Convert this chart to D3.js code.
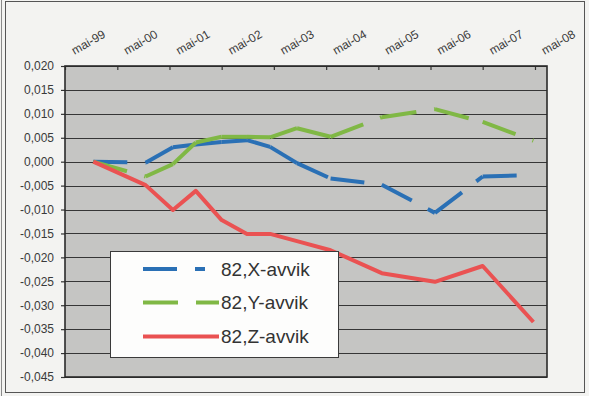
<!DOCTYPE html>
<html>
<head>
<meta charset="utf-8">
<script src="https://cdn.jsdelivr.net/npm/d3@7"></script>
<style>
  html, body { margin: 0; padding: 0; background: #f3f3f1; }
  svg { display: block; font-family: "Liberation Sans", Arial, sans-serif; }
</style>
</head>
<body>
<svg id="chart" width="589" height="396"></svg>
<script>
// Measurement epochs
const dates = ["1999-11-15", "2000-11-15", "2001-05-25", "2001-11-01", "2002-05-01",
  "2002-10-25", "2003-04-05", "2003-10-10", "2004-06-01", "2005-05-25",
  "2006-06-01", "2007-05-01", "2008-04-20"];

// Deviations for point 82
const xAvvik = [0.0000, -0.0002, 0.0030, 0.0036, 0.0041, 0.0045, 0.0031, -0.0003,
  -0.0035, -0.0048, -0.0107, -0.0031, -0.0028];
const yAvvik = [0.0000, -0.0031, -0.0005, 0.0040, 0.0052, 0.0052, 0.0051, 0.0070,
  0.0052, 0.0093, 0.0110, 0.0083, 0.0044];
const zAvvik = [0.0000, -0.0049, -0.0101, -0.0061, -0.0122, -0.0151, -0.0151, -0.0166,
  -0.0185, -0.0233, -0.0251, -0.0218, -0.0335];

const seriesNames = ["82,X-avvik", "82,Y-avvik", "82,Z-avvik"];

// Axis ticks
const xTickLabels = ["mai-99", "mai-00", "mai-01", "mai-02", "mai-03", "mai-04",
  "mai-05", "mai-06", "mai-07", "mai-08"];
const yTicks = [0.020, 0.015, 0.010, 0.005, 0.000, -0.005, -0.010, -0.015, -0.020,
  -0.025, -0.030, -0.035, -0.040, -0.045];

// Norwegian locale for dates and numbers
const nbTime = d3.timeFormatLocale({
  dateTime: "%A %e. %B %Y kl. %X", date: "%d.%m.%Y", time: "%H:%M:%S",
  periods: ["AM", "PM"],
  days: ["søndag", "mandag", "tirsdag", "onsdag", "torsdag", "fredag", "lørdag"],
  shortDays: ["søn", "man", "tir", "ons", "tor", "fre", "lør"],
  months: ["januar", "februar", "mars", "april", "mai", "juni", "juli", "august",
    "september", "oktober", "november", "desember"],
  shortMonths: ["jan", "feb", "mar", "apr", "mai", "jun", "jul", "aug", "sep", "okt", "nov", "des"]
});
const nbNum = d3.formatLocale({ decimal: ",", thousands: " ", grouping: [3],
  currency: ["", " kr"], minus: "-" });

const parseDate = d3.timeParse("%Y-%m-%d");
const parseTick = nbTime.parse("%b-%y");
const fmtTick = nbTime.format("%b-%y");
const fmtY = nbNum.format(".3f");

const W = 589, H = 396;
const plot = { left: 65, right: 547, top: 66, bottom: 377 };

const x = d3.scaleTime()
  .domain([new Date(1999, 4, 1), new Date(2008, 6, 24)])
  .range([plot.left, plot.right]);
const y = d3.scaleLinear()
  .domain([-0.045, 0.020])
  .range([plot.bottom, plot.top]);

const svg = d3.select("#chart");

// Outer frame
svg.append("rect").attr("x", 0).attr("y", 0).attr("width", W).attr("height", H)
  .attr("fill", "#f3f3f1");
svg.append("line").attr("x1", 1.5).attr("x2", 1.5).attr("y1", 0).attr("y2", H)
  .attr("stroke", "#8a8a8a").attr("stroke-width", 1);
svg.append("rect").attr("x", 5.5).attr("y", 1.5).attr("width", 579).attr("height", 391)
  .attr("fill", "none").attr("stroke", "#555").attr("stroke-width", 1);

// Plot area
svg.append("rect")
  .attr("x", plot.left).attr("y", plot.top)
  .attr("width", plot.right - plot.left).attr("height", plot.bottom - plot.top)
  .attr("fill", "#c5c5c3");

// Horizontal gridlines
svg.append("g").selectAll("line").data(yTicks).join("line")
  .attr("x1", plot.left).attr("x2", plot.right)
  .attr("y1", d => Math.round(y(d)) + 0.5).attr("y2", d => Math.round(y(d)) + 0.5)
  .attr("stroke", "#363636").attr("stroke-width", 1.1);

// Y axis
const yAxis = svg.append("g")
  .attr("transform", `translate(${plot.left},0)`)
  .call(d3.axisLeft(y).tickValues(yTicks).tickFormat(fmtY).tickSize(4).tickPadding(7));
yAxis.select(".domain").remove();
yAxis.selectAll(".tick line").attr("stroke", "#333").attr("stroke-width", 1.2);
yAxis.selectAll(".tick text").attr("fill", "#3a3a3a").attr("font-size", 12)
  .attr("font-family", "'Liberation Sans', Arial, sans-serif");

// X axis along the top, labels slanted
const tickDates = xTickLabels.map(parseTick);
const xAxis = svg.append("g")
  .attr("transform", `translate(0,${plot.top})`)
  .call(d3.axisTop(x).tickValues(tickDates).tickFormat(fmtTick).tickSize(-4));
xAxis.select(".domain").remove();
xAxis.selectAll(".tick line").attr("stroke", "#333").attr("stroke-width", 1.2);
xAxis.selectAll(".tick text")
  .attr("fill", "#3a3a3a").attr("font-size", 12)
  .attr("font-family", "'Liberation Sans', Arial, sans-serif")
  .attr("text-anchor", "start").attr("x", 0).attr("y", 0).attr("dy", 0)
  .attr("transform", "translate(9,-11) rotate(-30)");

// Plot border
svg.append("rect")
  .attr("x", plot.left).attr("y", plot.top)
  .attr("width", plot.right - plot.left).attr("height", plot.bottom - plot.top)
  .attr("fill", "none").attr("stroke", "#2a2a2a").attr("stroke-width", 1.6);

// Series
const epochs = dates.map(parseDate);
const series = [
  { name: seriesNames[0], values: xAvvik, color: "#2a70b5", dash: "34,18,10,18" },
  { name: seriesNames[1], values: yAvvik, color: "#80b845", dash: "35,18" },
  { name: seriesNames[2], values: zAvvik, color: "#ea5252", dash: null }
];

const line = d3.line().x(d => x(d.date)).y(d => y(d.value));

series.forEach(s => {
  const pts = epochs.map((dt, i) => ({ date: dt, value: s.values[i] }));
  const g = svg.append("g");
  if (s.dash) {
    // dashed series: pattern restarts at every data point
    const segs = d3.pairs(pts);
    g.selectAll("path").data(segs).join("path")
      .attr("d", line)
      .attr("fill", "none")
      .attr("stroke", s.color)
      .attr("stroke-width", 4)
      .attr("stroke-dasharray", s.dash);
  } else {
    g.append("path").datum(pts)
      .attr("d", line)
      .attr("fill", "none")
      .attr("stroke", s.color)
      .attr("stroke-width", 4)
      .attr("stroke-linejoin", "round");
  }
});

// Legend
const legend = svg.append("g");
legend.append("rect")
  .attr("x", 110.5).attr("y", 251.5).attr("width", 228).attr("height", 106)
  .attr("fill", "#fdfdfc").attr("stroke", "#3a3a3a").attr("stroke-width", 1);
const rowY = [269, 302.5, 336.5];
series.forEach((s, i) => {
  legend.append("line")
    .attr("x1", 143).attr("x2", 219).attr("y1", rowY[i]).attr("y2", rowY[i])
    .attr("stroke", s.color).attr("stroke-width", 4)
    .attr("stroke-dasharray", s.dash);
  legend.append("text")
    .attr("x", 221).attr("y", rowY[i]).attr("dy", "0.36em")
    .attr("font-size", 19).attr("fill", "#333")
    .text(s.name);
});
</script>
</body>
</html>
